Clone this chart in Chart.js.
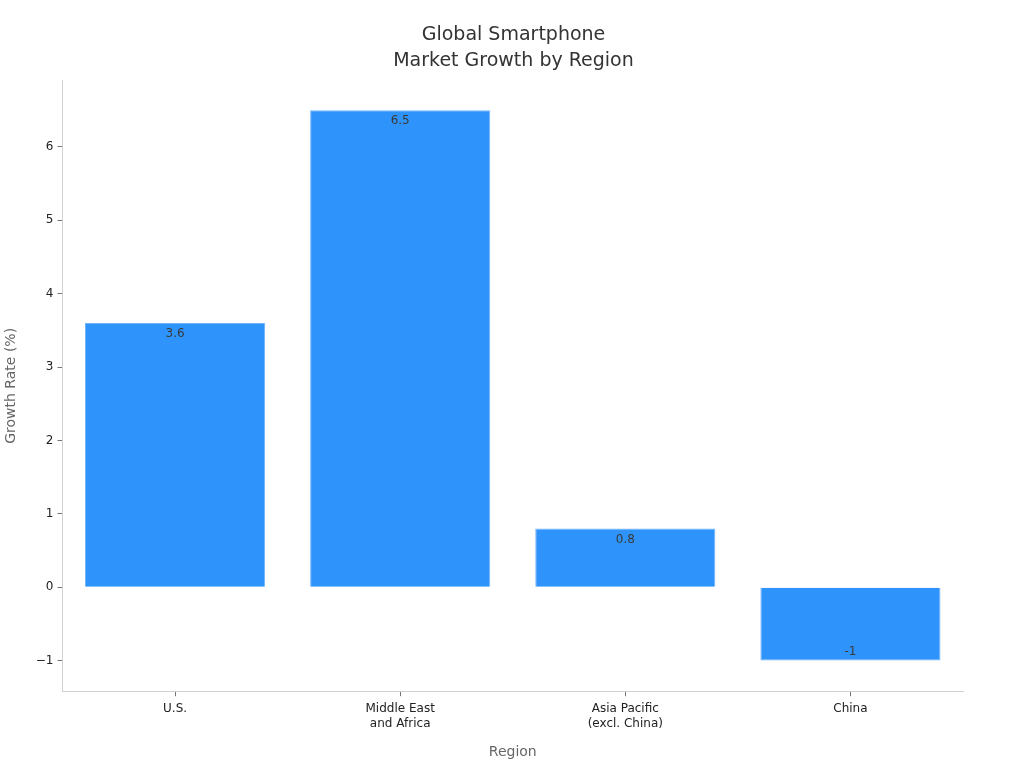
<!DOCTYPE html>
<html>
<head>
<meta charset="utf-8">
<script src="https://cdn.jsdelivr.net/npm/chart.js@4"></script>
<style>
html,body{margin:0;padding:0;background:#fff;}
#wrap{width:1024px;height:768px;}
</style>
</head>
<body>
<div id="wrap"><canvas id="c" width="1024" height="768"></canvas></div>
<script>
const categories = [["U.S."], ["Middle East", "and Africa"], ["Asia Pacific", "(excl. China)"], ["China"]];
const growthValues = [3.6, 6.5, 0.8, -1];
const valueLabels = ["3.6", "6.5", "0.8", "-1"];
const yTicks = [-1, 0, 1, 2, 3, 4, 5, 6];

const FONT = "'DejaVu Sans', sans-serif";

const barLabels = {
  id: 'barLabels',
  afterDatasetsDraw(chart) {
    const ctx = chart.ctx;
    const meta = chart.getDatasetMeta(0);
    ctx.save();
    ctx.font = "12px " + FONT;
    ctx.fillStyle = '#3a3a3a';
    ctx.textAlign = 'center';
    ctx.textBaseline = 'middle';
    meta.data.forEach((el, i) => {
      const v = growthValues[i];
      const y = v >= 0 ? el.y + 11 : el.y - 9;
      ctx.fillText(valueLabels[i], el.x, y);
    });
    ctx.restore();
  }
};

new Chart(document.getElementById('c'), {
  type: 'bar',
  data: {
    labels: categories,
    datasets: [{
      data: growthValues,
      backgroundColor: '#2e93fa',
      borderColor: '#6fb4fb',
      borderWidth: 1,
      barPercentage: 0.8,
      categoryPercentage: 1.0
    }]
  },
  options: {
    responsive: false,
    animation: false,
    devicePixelRatio: 1,
    layout: { padding: { left: 3, right: 0, top: 0, bottom: 7 } },
    plugins: {
      legend: { display: false },
      tooltip: { enabled: false },
      title: {
        display: true,
        text: ['Global Smartphone', 'Market Growth by Region'],
        color: '#333333',
        font: { family: FONT, size: 19, weight: 'normal', lineHeight: 1.38 },
        padding: { top: 22, bottom: 6 }
      }
    },
    scales: {
      x: {
        offset: true,
        grid: { display: true, offset: false, drawOnChartArea: false, drawTicks: true, tickLength: 5, color: '#777', tickWidth: 1 },
        border: { display: true, color: '#d0d0d0', width: 1 },
        ticks: { color: '#222', font: { family: FONT, size: 12, lineHeight: 1.25 }, padding: 5, maxRotation: 0 },
        title: { display: true, text: 'Region', color: '#666', font: { family: FONT, size: 14 }, padding: { top: 8, bottom: 0 } }
      },
      y: {
        min: -1.417,
        max: 6.907,
        afterBuildTicks(axis) { axis.ticks = yTicks.map(v => ({ value: v })); },
        grid: { display: true, drawOnChartArea: false, drawTicks: true, tickLength: 5, color: '#777', tickWidth: 1 },
        border: { display: true, color: '#d0d0d0', width: 1 },
        ticks: {
          color: '#222', font: { family: FONT, size: 12 }, padding: 4,
          callback: (v) => (v < 0 ? '\u2212' + Math.abs(v) : String(v))
        },
        title: { display: true, text: 'Growth Rate (%)', color: '#666', font: { family: FONT, size: 14 }, padding: { top: 0, bottom: 12 } }
      },
      ySpacer: {
        position: 'right',
        display: true,
        grid: { display: false },
        border: { display: false },
        ticks: { display: false },
        afterFit(axis) { axis.width = 61; }
      }
    }
  },
  plugins: [barLabels]
});
</script>
</body>
</html>
